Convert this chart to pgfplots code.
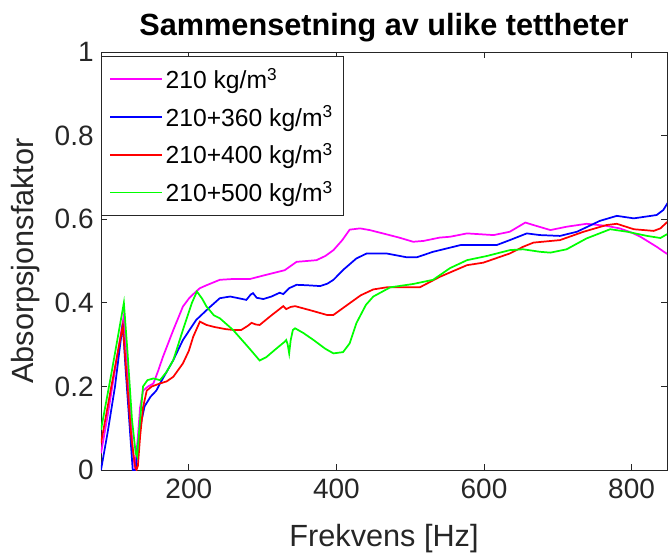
\documentclass[border=0pt]{standalone}
\usepackage{pgfplots}
\pgfplotsset{compat=1.18}
\usepackage{fontspec}
\setmainfont{Liberation Sans}
\definecolor{axgray}{gray}{0.15}
\definecolor{magenta}{rgb}{1,0,1}
\definecolor{blue}{rgb}{0,0,1}
\definecolor{red}{rgb}{1,0,0}
\definecolor{green}{rgb}{0,1,0}
\begin{document}
\begin{tikzpicture}
\begin{axis}[
  scale only axis,
  width=424.5pt, height=313.5pt,
  xmin=81, xmax=848, ymin=0, ymax=1,
  xtick={200,400,600,800},
  ytick={0,0.2,0.4,0.6,0.8,1},
  yticklabels={0,0.2,0.4,0.6,0.8,1},
  /pgf/number format/assume math mode=true,
  tick align=inside,
  major tick length=4.2pt,
  axis line style={axgray, line width=0.6pt},
  tick style={axgray, line width=0.6pt},
  ticklabel style={font=\fontsize{21}{25}\selectfont, text=axgray},
  xticklabel style={yshift=-3pt},
  yticklabel style={xshift=-2pt},
  xlabel={Frekvens [Hz]},
  ylabel={Absorpsjonsfaktor},
  label style={font=\fontsize{23}{27}\selectfont, text=axgray},
  xlabel style={at={(axis description cs:0.5,-0.163)}, anchor=center},
  ylabel style={at={(axis description cs:-0.134,0.5)}, anchor=center},
  title={\textbf{Sammensetning av ulike tettheter}},
  title style={font=\fontsize{23}{27}\selectfont, at={(axis description cs:0.5,1.0215)}, anchor=base},
  legend style={at={(axis description cs:0,0.991)}, anchor=north west,
    draw=axgray, font=\fontsize{18.5}{22}\selectfont,
    inner xsep=6pt, inner ysep=7pt, row sep=7.5pt, cells={anchor=west}},
  legend cell align=left,
  legend image code/.code={\draw[#1] (3pt,0pt) -- (42pt,0pt);},
  legend image post style={line width=1.3pt},
  every axis plot/.append style={line width=1.3pt},
]
\addplot[color=magenta] coordinates {
(81,0.04)(90,0.13)(100,0.24)(112,0.37)(118,0.22)(124,0.05)(127,0.0)(131,0.08)(134,0.15)(138,0.19)
(145,0.2)(152,0.207)(158,0.235)(165,0.271)(179,0.335)(192,0.391)(200,0.41)(208,0.424)(215,0.435)
(224,0.442)(242,0.455)(260,0.457)(283,0.457)(305,0.467)(330,0.478)(346,0.498)(360,0.50)(373,0.502)
(385,0.512)(396,0.526)(408,0.55)(418,0.575)(432,0.578)(445,0.574)(463,0.566)(485,0.556)(504,0.546)
(518,0.548)(540,0.556)(554,0.558)(577,0.566)(613,0.562)(635,0.570)(656,0.592)(667,0.586)(690,0.574)
(712,0.582)(739,0.589)(766,0.584)(784,0.578)(800,0.568)(812,0.558)(834,0.534)(848,0.517)
};
\addlegendentry{210 kg/m\textsuperscript{3}}
\addplot[color=blue] coordinates {
(81,0.0)(90,0.09)(100,0.2)(110.5,0.35)(114,0.25)(120,0.1)(124,0.0)(128,0.0)(131,0.06)(135,0.11)
(140,0.152)(148,0.175)(156,0.19)(161,0.207)(170,0.235)(179,0.263)(192,0.311)(201,0.335)(210,0.359)
(228,0.389)(242,0.411)(256,0.415)(270,0.41)(278,0.407)(284,0.42)(287,0.423)(292,0.412)(301,0.409)
(312,0.415)(323,0.424)(328,0.421)(336,0.435)(346,0.443)(360,0.442)(378,0.440)(388,0.446)(396,0.455)
(410,0.48)(427,0.506)(441,0.518)(468,0.518)(495,0.509)(509,0.509)(531,0.522)(568,0.538)(617,0.538)
(635,0.550)(658,0.566)(676,0.562)(703,0.560)(726,0.570)(757,0.596)(780,0.608)(803,0.602)(834,0.610)
(843,0.622)(850,0.642)
};
\addlegendentry{210+360 kg/m\textsuperscript{3}}
\addplot[color=red] coordinates {
(81,0.064)(95,0.2)(110.5,0.345)(116,0.22)(122,0.08)(127,0.01)(129,0.0)(131,0.01)(134,0.08)(138,0.15)
(143,0.19)(150,0.2)(161,0.207)(170,0.212)(179,0.223)(192,0.255)(200,0.285)(206,0.319)(215,0.355)
(224,0.347)(235,0.342)(250,0.337)(260,0.335)(271,0.335)(280,0.345)(285,0.352)(291,0.348)(296,0.347)
(312,0.37)(328,0.392)(332,0.385)(338,0.39)(344,0.392)(365,0.382)(387,0.371)(396,0.371)(407,0.385)
(418,0.399)(433,0.418)(450,0.432)(468,0.437)(486,0.437)(513,0.437)(540,0.462)(577,0.490)(599,0.496)
(635,0.518)(653,0.534)(667,0.544)(703,0.550)(735,0.570)(766,0.586)(780,0.589)(803,0.576)(830,0.572)
(839,0.578)(850,0.596)
};
\addlegendentry{210+400 kg/m\textsuperscript{3}}
\addplot[color=green] coordinates {
(81,0.096)(95,0.23)(112,0.40)(117,0.28)(123,0.12)(128,0.04)(130,0.032)(133,0.1)(138,0.2)(144,0.215)
(152,0.219)(161,0.215)(170,0.235)(179,0.263)(192,0.335)(204,0.399)(211,0.427)(218,0.41)(224,0.391)
(234,0.37)(242,0.363)(260,0.335)(280,0.295)(296,0.262)(305,0.27)(319,0.291)(330,0.307)(332,0.311)
(334,0.30)(336,0.279)(338,0.31)(341,0.335)(344,0.339)(355,0.328)(369,0.311)(385,0.29)(396,0.279)
(409,0.282)(418,0.303)(427,0.351)(440,0.395)(450,0.415)(473,0.437)(504,0.445)(531,0.455)(554,0.483)
(577,0.502)(604,0.512)(635,0.526)(653,0.528)(676,0.522)(690,0.520)(712,0.528)(739,0.554)(771,0.576)
(794,0.570)(821,0.560)(839,0.555)(850,0.566)
};
\addlegendentry{210+500 kg/m\textsuperscript{3}}
\end{axis}
\pgfresetboundingbox
\path[use as bounding box] ([shift={(-75.75pt,-64.5pt)}]current axis.south west) rectangle ([shift={(2.25pt,39pt)}]current axis.north east);
\end{tikzpicture}
\end{document}
